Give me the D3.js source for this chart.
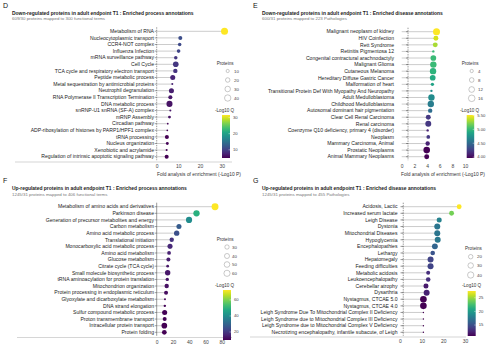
<!DOCTYPE html>
<html>
<head>
<meta charset="utf-8">
<script src="https://cdn.jsdelivr.net/npm/d3@7"></script>
<style>
  body { margin: 0; background: #fff; }
  svg { display: block; font-family: "Liberation Sans", Arial, sans-serif; }
</style>
</head>
<body>
<div id="chart"></div>
<script>
// D: down-regulated, process annotations
var dTerms = [
  "Metabolism of RNA", "Nucleocytoplasmic transport", "CCR4-NOT complex", "Influenza Infection",
  "mRNA surveillance pathway", "Cell Cycle", "TCA cycle and respiratory electron transport",
  "Peptide metabolic process", "Metal sequestration by antimicrobial proteins", "Neutrophil degranulation",
  "RNA Polymerase II Transcription Termination", "DNA metabolic process", "snRNP-U1 snRNA (SF-A) complex",
  "mRNP Assembly", "Circadian pathway", "ADP-ribosylation of histones by PARP1/HPF1 complex",
  "tRNA processing", "Nucleus organization", "Xenobiotic and acrylamide",
  "Regulation of intrinsic apoptotic signaling pathway"
];
var dEnrich = [31.3, 10.9, 10.6, 10.1, 8.8, 8.8, 8.6, 7.4, 7.2, 6.8, 6.3, 5.9, 6.3, 5.9, 5.1, 4.9, 4.7, 4.9, 4.6, 4.6];
var dProteins = [48, 16, 12, 13, 12, 31, 19, 25, 4, 25, 16, 36, 4, 8, 3, 3, 16, 8, 4, 16];
var dTicks = [0, 10, 20, 30];
var dSizeBreaks = [10, 20, 30, 40];

// E: down-regulated, disease annotations
var eTerms = [
  "Malignant neoplasm of kidney", "HIV Coinfection", "Rett Syndrome", "Retinitis Pigmentosa 12",
  "Congenital contractural arachnodactyly", "Malignant Glioma", "Cutaneous Melanoma",
  "Hereditary Diffuse Gastric Cancer", "Malformation of heart",
  "Transitional Protein Def With Myopathy And Neuropathy", "Adult Medulloblastoma",
  "Childhood Medulloblastoma", "Autosomal dominant hair pigmentation", "Clear Cell Renal Carcinoma",
  "Renal carcinoma", "Coenzyme Q10 deficiency, primary 4 (disorder)", "Neoplasm",
  "Mammary Carcinoma, Animal", "Prostatic Neoplasms", "Animal Mammary Neoplasms"
];
var eEnrich = [5.5, 5.4, 5.3, 5.0, 5.0, 5.0, 4.95, 4.9, 4.85, 4.7, 4.7, 4.6, 4.5, 4.2, 4.2, 4.1, 4.2, 4.1, 3.95, 3.95];
var eProteins = [18, 9, 9, 2, 12, 15, 15, 12, 4, 2, 15, 15, 7, 9, 13, 2, 5, 7, 16, 9];
var eTicks = [0, 2, 4, 6, 8, 10];
var eSizeBreaks = [4, 8, 12, 16];

// F: up-regulated, process annotations
var fTerms = [
  "Metabolism of amino acids and derivatives", "Parkinson disease",
  "Generation of precursor metabolites and energy", "Carbon metabolism", "Amino acid metabolic process",
  "Translational initiation", "Monocarboxylic acid metabolic process", "Amino acid metabolism",
  "Glucose metabolism", "Citrate cycle (TCA cycle)", "Small molecule biosynthetic process",
  "tRNA aminoacylation for protein translation", "Mitochondrion organization",
  "Protein processing in endoplasmic reticulum", "Glyoxylate and dicarboxylate metabolism",
  "DNA strand elongation", "Sulfur compound metabolic process", "Proton transmembrane transport",
  "Intracellular protein transport", "Protein folding"
];
var fEnrich = [71.8, 49, 39.8, 27.4, 24.6, 18.5, 16.4, 15.2, 14.4, 13.5, 13.5, 13, 12.3, 11.5, 10.2, 10, 9.8, 9.8, 9.4, 9.4];
var fProteins = [75, 62, 60, 40, 45, 30, 40, 22, 25, 12, 45, 18, 30, 25, 6, 9, 40, 25, 50, 35];
var fTicks = [0, 20, 40, 60, 80];
var fSizeBreaks = [30, 40, 50, 60];

// G: up-regulated, disease annotations
var gTerms = [
  "Acidosis, Lactic", "Increased serum lactate", "Leigh Disease", "Dystonia", "Mitochondrial Diseases",
  "Hypoglycemia", "Encephalopathies", "Lethargy", "Hepatomegaly", "Feeding difficulties",
  "Metabolic acidosis", "Leukoencephalopathy", "Cerebellar atrophy", "Dysarthria",
  "Nystagmus, CTCAE 5.0", "Nystagmus, CTCAE 4.0",
  "Leigh Syndrome Due To Mitochondrial Complex II Deficiency",
  "Leigh Syndrome due to Mitochondrial Complex III Deficiency",
  "Leigh Syndrome due to Mitochondrial Complex V Deficiency",
  "Necrotizing encephalopathy, infantile subacute, of Leigh"
];
var gEnrich = [27.3, 23.8, 18.1, 17.2, 17.2, 17.4, 16.1, 15.1, 14.1, 14.1, 13, 13, 12, 12.3, 10.8, 10.8, 10.8, 10.8, 10.8, 10.8];
var gProteins = [24, 24, 25, 36, 36, 36, 35, 21, 36, 36, 16, 21, 25, 36, 44, 44, 2, 2, 2, 2];
var gTicks = [0, 10, 20, 30];
var gSizeBreaks = [20, 30, 40];

var axisTitle = "Fold analysis of enrichment (-Log10 P)";

var panels = [
  {
    letter: "D", terms: dTerms, enrich: dEnrich, proteins: dProteins, ticks: dTicks, sizeBreaks: dSizeBreaks,
    title: "Down-regulated proteins in adult endpoint T1 : Enriched process annotations",
    subtitle: "609/30 proteins mapped to 300 functional terms",
    left: 0, top: 0, labelRight: 154, xDomain: [0, 30], xRange: [156.7, 221.7], yRange: [31.3, 156.7],
    refValue: 0, refDash: "1.4,1", axisY: 162, baseLine: [15, 232], axisTitleX: 199,
    rMax: 3.2, rRef: 40,
    sizeTitle: [216.7, 65], sizeX: 227.7, sizeYs: [71, 80, 89, 98], sizeLabelX: 234,
    barTitle: [215, 111.5], bar: [222, 115, 8, 43], colorTicks: 3, colorFmt: "d"
  },
  {
    letter: "E", terms: eTerms, enrich: eEnrich, proteins: eProteins, ticks: eTicks, sizeBreaks: eSizeBreaks,
    title: "Down-regulated proteins in adult endpoint T1 : Enriched disease annotations",
    subtitle: "600/31 proteins mapped to 223 Pathologies",
    left: 250, top: 0, labelRight: 394, xDomain: [0, 10], xRange: [401.7, 465], yRange: [31.7, 156.7],
    refValue: 1, refDash: "1.4,1", axisY: 162, baseLine: null, axisTitleX: 443,
    rMax: 3.3, rRef: 16,
    sizeTitle: [461.7, 65], sizeX: 471.7, sizeYs: [71, 80, 89.5, 98.3], sizeLabelX: 478,
    barTitle: [460, 111.5], bar: [466.7, 115, 7.5, 43], colorTicks: 4, colorFmt: ".2f"
  },
  {
    letter: "F", terms: fTerms, enrich: fEnrich, proteins: fProteins, ticks: fTicks, sizeBreaks: fSizeBreaks,
    title: "Up-regulated proteins in adult endpoint T1 : Enriched process annotations",
    subtitle: "1245/31 proteins mapped to 406 functional terms",
    left: 0, top: 175.4, labelRight: 154, xDomain: [0, 80], xRange: [156.7, 221.7], yRange: [206.7, 332.3],
    refValue: 0, refDash: null, axisY: 337.5, baseLine: [17, 232], axisTitleX: null,
    rMax: 3.1, rRef: 60,
    sizeTitle: [216.7, 240.5], sizeX: 227, sizeYs: [247, 256, 264.5, 273.3], sizeLabelX: 232,
    barTitle: [215, 287], bar: [223, 290, 8, 50], colorTicks: 4, colorFmt: "d"
  },
  {
    letter: "G", terms: gTerms, enrich: gEnrich, proteins: gProteins, ticks: gTicks, sizeBreaks: gSizeBreaks,
    title: "Up-regulated proteins in adult endpoint T1 : Enriched disease annotations",
    subtitle: "1245/31 proteins mapped to 455 Pathologies",
    left: 250, top: 175.4, labelRight: 397.5, xDomain: [0, 30], xRange: [400, 465], yRange: [206.7, 332.3],
    refValue: 1.5, refDash: "1.4,1", axisY: 337, baseLine: [250, 466], axisTitleX: null,
    rMax: 3.16, rRef: 40,
    sizeTitle: [465, 250], sizeX: 470.7, sizeYs: [256.7, 265.5, 275], sizeLabelX: 477,
    barTitle: [462, 287], bar: [467.7, 291, 8, 45], colorTicks: 4, colorFmt: "d"
  }
];

var width = 500, height = 347;
var svg = d3.select("#chart").append("svg").attr("width", width).attr("height", height);
var defs = svg.append("defs");

panels.forEach(drawPanel);

function drawPanel(p) {
  var g = svg.append("g").attr("class", "panel-" + p.letter);
  var x = d3.scaleLinear().domain(p.xDomain).range(p.xRange);
  var y = d3.scalePoint().domain(p.terms).range(p.yRange);
  var r = d3.scaleSqrt().domain([0, p.rRef]).range([0, p.rMax]);
  var extent = d3.extent(p.enrich);
  var color = d3.scaleSequential(d3.interpolateViridis).domain(extent);

  var rows = p.terms.map(function(t, i) {
    return { term: t, value: p.enrich[i], n: p.proteins[i] };
  });

  // headings
  g.append("text").attr("x", p.left + 3).attr("y", p.top + 7.8)
    .attr("font-size", 7).attr("fill", "#111").text(p.letter);
  g.append("text").attr("x", p.left + 12).attr("y", p.top + 15)
    .attr("font-size", 4.95).attr("font-weight", 600).attr("fill", "#222").text(p.title);
  g.append("text").attr("x", p.left + 12).attr("y", p.top + 20.3)
    .attr("font-size", 4.4).attr("fill", "#777").text(p.subtitle);

  // stems from zero to each value
  g.selectAll(".stem").data(rows).enter().append("line")
    .attr("x1", x(0)).attr("x2", function(d) { return x(d.value); })
    .attr("y1", function(d) { return y(d.term); }).attr("y2", function(d) { return y(d.term); })
    .attr("stroke", "#aaa").attr("stroke-width", 0.6);

  // reference line
  var ref = g.append("line")
    .attr("x1", x(p.refValue)).attr("x2", x(p.refValue))
    .attr("y1", p.yRange[0] - 4).attr("y2", p.yRange[1] + 3.5)
    .attr("stroke", "#555").attr("stroke-width", 0.6);
  if (p.refDash) ref.attr("stroke-dasharray", p.refDash);

  // term ticks
  g.selectAll(".ytick").data(rows).enter().append("line")
    .attr("x1", x(p.refValue) - 2).attr("x2", x(p.refValue))
    .attr("y1", function(d) { return y(d.term); }).attr("y2", function(d) { return y(d.term); })
    .attr("stroke", "#444").attr("stroke-width", 0.5);

  // term labels
  g.selectAll(".term").data(rows).enter().append("text")
    .attr("x", p.labelRight).attr("y", function(d) { return y(d.term); })
    .attr("dy", "0.35em").attr("text-anchor", "end")
    .attr("font-size", 5.1).attr("fill", "#222")
    .text(function(d) { return d.term; });

  // points
  g.selectAll(".dot").data(rows).enter().append("circle")
    .attr("cx", function(d) { return x(d.value); })
    .attr("cy", function(d) { return y(d.term); })
    .attr("r", function(d) { return r(d.n); })
    .attr("fill", function(d) { return color(d.value); });

  // x axis
  if (p.baseLine) {
    g.append("line").attr("x1", p.baseLine[0]).attr("x2", p.baseLine[1])
      .attr("y1", p.axisY).attr("y2", p.axisY)
      .attr("stroke", "#bbb").attr("stroke-width", 0.6);
  }
  var ax = g.append("g").attr("transform", "translate(0," + p.axisY + ")")
    .call(d3.axisBottom(x).tickValues(p.ticks).tickSize(0).tickPadding(2.5));
  ax.select(".domain").remove();
  ax.selectAll("text").attr("font-size", 5).attr("fill", "#444").attr("font-family", null);

  if (p.axisTitleX) {
    g.append("text").attr("x", p.axisTitleX).attr("y", p.axisY + 14.3)
      .attr("text-anchor", "middle").attr("font-size", 4.9).attr("fill", "#333").text(axisTitle);
  }

  // size legend
  g.append("text").attr("x", p.sizeTitle[0]).attr("y", p.sizeTitle[1])
    .attr("font-size", 4.6).attr("fill", "#333").text("Proteins");
  g.selectAll(".sizekey").data(p.sizeBreaks).enter().append("circle")
    .attr("cx", p.sizeX).attr("cy", function(d, i) { return p.sizeYs[i]; })
    .attr("r", function(d) { return r(d); })
    .attr("fill", "none").attr("stroke", "#888").attr("stroke-width", 0.45);
  g.selectAll(".sizelab").data(p.sizeBreaks).enter().append("text")
    .attr("x", p.sizeLabelX).attr("y", function(d, i) { return p.sizeYs[i]; })
    .attr("dy", "0.35em").attr("font-size", 4.4).attr("fill", "#444")
    .text(function(d) { return d; });

  // colour legend
  var gid = "grad-" + p.letter;
  var grad = defs.append("linearGradient").attr("id", gid)
    .attr("x1", "0").attr("y1", "1").attr("x2", "0").attr("y2", "0");
  d3.range(0, 1.0001, 0.1).forEach(function(t) {
    grad.append("stop").attr("offset", t).attr("stop-color", d3.interpolateViridis(t));
  });
  g.append("text").attr("x", p.barTitle[0]).attr("y", p.barTitle[1])
    .attr("font-size", 4.6).attr("fill", "#333").text("-Log10 Q");
  g.append("rect").attr("x", p.bar[0]).attr("y", p.bar[1])
    .attr("width", p.bar[2]).attr("height", p.bar[3])
    .attr("fill", "url(#" + gid + ")");
  var cScale = d3.scaleLinear().domain(extent).range([p.bar[1] + p.bar[3], p.bar[1]]);
  var cax = g.append("g").attr("transform", "translate(" + (p.bar[0] + p.bar[2]) + ",0)")
    .call(d3.axisRight(cScale).ticks(p.colorTicks, p.colorFmt).tickSize(1.5).tickPadding(1.5));
  cax.select(".domain").remove();
  cax.selectAll("line").attr("stroke", "#fff").attr("stroke-width", 0.4)
    .attr("transform", "translate(-1.5,0)");
  cax.selectAll("text").attr("font-size", 4.2).attr("fill", "#444").attr("font-family", null);
}
</script>
</body>
</html>
